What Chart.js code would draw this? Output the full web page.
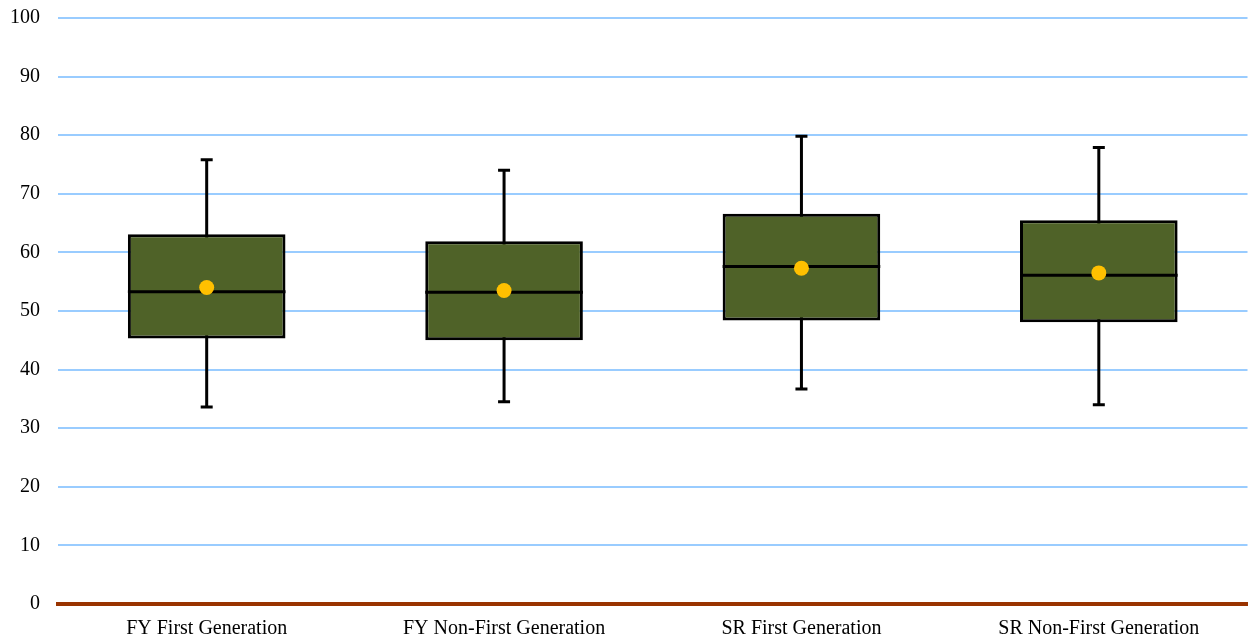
<!DOCTYPE html>
<html>
<head>
<meta charset="utf-8">
<script src="https://cdn.jsdelivr.net/npm/chart.js@4.4.1/dist/chart.umd.min.js"></script>
<style>
html,body{margin:0;padding:0;background:#fff;overflow:hidden;width:1250px;height:636px;}
canvas{display:block;}
</style>
</head>
<body>
<canvas id="c" width="1255" height="636" style="width:1255px;height:636px;"></canvas>
<script>
const categories = ["FY First Generation", "FY Non-First Generation", "SR First Generation", "SR Non-First Generation"];
const whiskerMin = [33.6, 34.5, 36.7, 34.0];
const quartile1  = [45.3, 45.0, 48.4, 48.1];
const median     = [53.3, 53.2, 57.6, 56.1];
const quartile3  = [63.1, 61.9, 66.6, 65.5];
const whiskerMax = [75.8, 74.0, 79.8, 77.9];
const mean       = [54.0, 53.5, 57.3, 56.5];
const yTicks = [0, 10, 20, 30, 40, 50, 60, 70, 80, 90, 100];

const boxPlugin = {
  id: 'boxParts',
  beforeDatasetsDraw(chart) {
    const ctx = chart.ctx;
    const y = chart.scales.y;
    const meta = chart.getDatasetMeta(1);
    ctx.save();
    ctx.strokeStyle = '#000';
    ctx.lineWidth = 3;
    meta.data.forEach((bar, i) => {
      const x = bar.x;
      const yMin = y.getPixelForValue(whiskerMin[i]);
      const yMax = y.getPixelForValue(whiskerMax[i]);
      ctx.beginPath();
      ctx.moveTo(x, yMin); ctx.lineTo(x, yMax);
      ctx.moveTo(x - 6, yMin); ctx.lineTo(x + 6, yMin);
      ctx.moveTo(x - 6, yMax); ctx.lineTo(x + 6, yMax);
      ctx.stroke();
    });
    ctx.restore();
  },
  afterDatasetDraw(chart, args) {
    if (args.index !== 1) return;
    const ctx = chart.ctx;
    const y = chart.scales.y;
    ctx.save();
    ctx.strokeStyle = '#000';
    ctx.lineWidth = 3;
    args.meta.data.forEach((bar, i) => {
      const ym = y.getPixelForValue(median[i]);
      ctx.beginPath();
      ctx.moveTo(bar.x - bar.width / 2, ym);
      ctx.lineTo(bar.x + bar.width / 2, ym);
      ctx.stroke();
    });
    ctx.restore();
  }
};

function zeroPad(scale) {
  scale.paddingLeft = 0; scale.paddingRight = 0;
  scale.paddingTop = 0; scale.paddingBottom = 0;
}

new Chart(document.getElementById('c'), {
  type: 'bar',
  data: {
    labels: categories,
    datasets: [
      {
        type: 'line',
        label: 'Mean',
        data: mean,
        showLine: false,
        pointRadius: 7.5,
        pointHoverRadius: 7.5,
        pointBackgroundColor: '#FFC000',
        pointBorderWidth: 0,
        order: 0
      },
      {
        type: 'bar',
        label: 'IQR',
        data: quartile1.map((q, i) => [q, quartile3[i]]),
        backgroundColor: '#4F6228',
        borderColor: '#000',
        borderWidth: 3,
        borderSkipped: false,
        categoryPercentage: 1.0,
        barPercentage: 0.53,
        order: 1
      }
    ]
  },
  options: {
    responsive: false,
    animation: false,
    devicePixelRatio: 1,
    layout: { padding: { top: 18, right: 2, left: 0, bottom: 0 } },
    plugins: { legend: { display: false }, tooltip: { enabled: false } },
    scales: {
      x: {
        grid: { display: false },
        border: { display: true, color: '#993300', width: 4 },
        ticks: { color: '#000', padding: 5, font: { family: 'Liberation Serif', size: 20 }, maxRotation: 0 },
        afterFit(scale) { scale.height = 32; zeroPad(scale); }
      },
      y: {
        min: 0, max: 100,
        afterBuildTicks(scale) { scale.ticks = yTicks.map(v => ({ value: v })); },
        grid: { color: '#99CCFF', lineWidth: 2, drawTicks: false },
        border: { display: false },
        ticks: { color: '#000', padding: 18, font: { family: 'Liberation Serif', size: 20 } },
        afterFit(scale) { scale.width = 58; zeroPad(scale); }
      }
    }
  },
  plugins: [boxPlugin]
});
</script>
</body>
</html>
